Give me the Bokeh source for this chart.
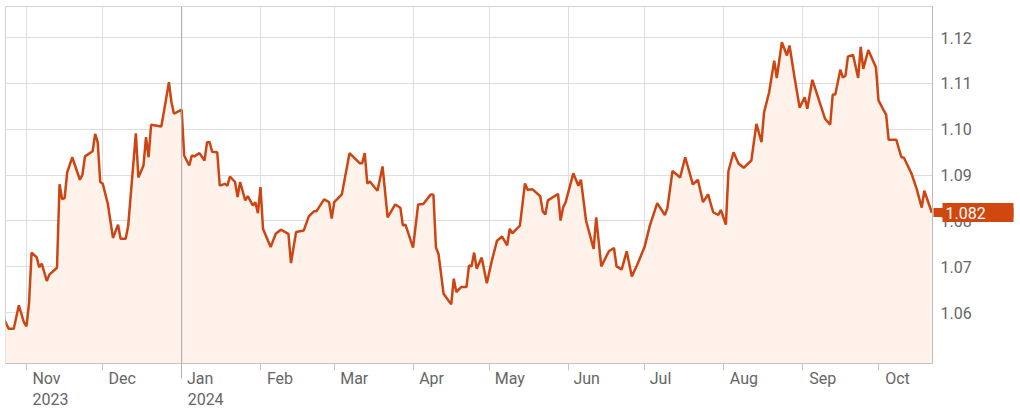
import pandas as pd
from bokeh.plotting import figure
from bokeh.models import (Range1d, FixedTicker, LinearAxis, Span,
                          PrintfTickFormatter)
from bokeh.embed import file_html
from bokeh.resources import INLINE

# ---------------- data ----------------
dates = [
    "2023-10-23", "2023-10-25", "2023-10-27", "2023-10-29", "2023-10-31",
    "2023-11-01", "2023-11-02", "2023-11-03", "2023-11-05", "2023-11-06",
    "2023-11-07", "2023-11-09", "2023-11-10", "2023-11-13", "2023-11-14",
    "2023-11-15", "2023-11-16", "2023-11-17", "2023-11-19", "2023-11-22",
    "2023-11-23", "2023-11-24", "2023-11-27", "2023-11-28", "2023-11-29",
    "2023-11-30", "2023-12-01", "2023-12-03", "2023-12-05", "2023-12-07",
    "2023-12-08", "2023-12-10", "2023-12-11", "2023-12-14", "2023-12-15",
    "2023-12-17", "2023-12-18", "2023-12-19", "2023-12-20", "2023-12-24",
    "2023-12-25", "2023-12-27", "2023-12-28", "2023-12-29", "2024-01-01",
    "2024-01-02", "2024-01-04", "2024-01-05", "2024-01-06", "2024-01-08",
    "2024-01-10", "2024-01-11", "2024-01-12", "2024-01-13", "2024-01-15",
    "2024-01-16", "2024-01-18", "2024-01-19", "2024-01-20", "2024-01-22",
    "2024-01-23", "2024-01-24", "2024-01-26", "2024-01-27", "2024-01-29",
    "2024-01-30", "2024-01-31", "2024-02-01", "2024-02-02", "2024-02-05",
    "2024-02-07", "2024-02-09", "2024-02-12", "2024-02-13", "2024-02-15",
    "2024-02-18", "2024-02-20", "2024-02-22", "2024-02-23", "2024-02-26",
    "2024-02-28", "2024-02-29", "2024-03-01", "2024-03-04", "2024-03-07",
    "2024-03-11", "2024-03-12", "2024-03-13", "2024-03-14", "2024-03-15",
    "2024-03-18", "2024-03-20", "2024-03-22", "2024-03-25", "2024-03-27",
    "2024-03-28", "2024-03-29", "2024-04-01", "2024-04-03", "2024-04-05",
    "2024-04-08", "2024-04-09", "2024-04-10", "2024-04-11", "2024-04-13",
    "2024-04-16", "2024-04-17", "2024-04-18", "2024-04-20", "2024-04-22",
    "2024-04-23", "2024-04-24", "2024-04-25", "2024-04-26", "2024-04-28",
    "2024-04-30", "2024-05-02", "2024-05-04", "2024-05-06", "2024-05-08",
    "2024-05-09", "2024-05-10", "2024-05-13", "2024-05-15", "2024-05-16",
    "2024-05-18", "2024-05-21", "2024-05-22", "2024-05-23", "2024-05-24",
    "2024-05-28", "2024-05-29", "2024-05-30", "2024-05-31", "2024-06-03",
    "2024-06-05", "2024-06-06", "2024-06-08", "2024-06-11", "2024-06-12",
    "2024-06-14", "2024-06-17", "2024-06-19", "2024-06-20", "2024-06-22",
    "2024-06-24", "2024-06-26", "2024-06-28", "2024-07-01", "2024-07-03",
    "2024-07-06", "2024-07-09", "2024-07-10", "2024-07-12", "2024-07-15",
    "2024-07-17", "2024-07-20", "2024-07-22", "2024-07-24", "2024-07-26",
    "2024-07-28", "2024-07-30", "2024-07-31", "2024-08-02", "2024-08-03",
    "2024-08-05", "2024-08-07", "2024-08-09", "2024-08-12", "2024-08-14",
    "2024-08-16", "2024-08-17", "2024-08-19", "2024-08-21", "2024-08-22",
    "2024-08-24", "2024-08-26", "2024-08-27", "2024-08-29", "2024-08-31",
    "2024-09-02", "2024-09-03", "2024-09-05", "2024-09-10", "2024-09-12",
    "2024-09-13", "2024-09-14", "2024-09-16", "2024-09-17", "2024-09-18",
    "2024-09-19", "2024-09-21", "2024-09-23", "2024-09-24", "2024-09-25",
    "2024-09-27", "2024-09-30", "2024-10-01", "2024-10-03", "2024-10-04",
    "2024-10-05", "2024-10-08", "2024-10-10", "2024-10-11", "2024-10-14",
    "2024-10-16", "2024-10-18", "2024-10-19", "2024-10-22",
]
values = [
    1.0588, 1.0565, 1.0565, 1.0616, 1.0579,
    1.0570, 1.0620, 1.0731, 1.0721, 1.0699,
    1.0707, 1.0669, 1.0683, 1.0698, 1.0880,
    1.0848, 1.0850, 1.0906, 1.0939, 1.0890,
    1.0901, 1.0941, 1.0952, 1.0990, 1.0972,
    1.0885, 1.0881, 1.0837, 1.0763, 1.0792,
    1.0761, 1.0761, 1.0790, 1.0991, 1.0895,
    1.0921, 1.0983, 1.0939, 1.1010, 1.1006,
    1.1037, 1.1103, 1.1059, 1.1034, 1.1043,
    1.0943, 1.0921, 1.0943, 1.0941, 1.0948,
    1.0932, 1.0972, 1.0972, 1.0951, 1.0950,
    1.0877, 1.0881, 1.0877, 1.0897, 1.0885,
    1.0852, 1.0885, 1.0845, 1.0854, 1.0834,
    1.0841, 1.0817, 1.0874, 1.0783, 1.0743,
    1.0772, 1.0781, 1.0772, 1.0708, 1.0776,
    1.0779, 1.0810, 1.0821, 1.0821, 1.0847,
    1.0841, 1.0805, 1.0841, 1.0858, 1.0948,
    1.0926, 1.0926, 1.0948, 1.0882, 1.0886,
    1.0866, 1.0919, 1.0808, 1.0836, 1.0829,
    1.0790, 1.0792, 1.0742, 1.0836, 1.0837,
    1.0858, 1.0857, 1.0742, 1.0728, 1.0641,
    1.0618, 1.0674, 1.0645, 1.0656, 1.0656,
    1.0703, 1.0701, 1.0731, 1.0696, 1.0720,
    1.0664, 1.0714, 1.0757, 1.0766, 1.0747,
    1.0783, 1.0773, 1.0790, 1.0882, 1.0868,
    1.0869, 1.0854, 1.0821, 1.0814, 1.0845,
    1.0859, 1.0801, 1.0830, 1.0841, 1.0904,
    1.0877, 1.0890, 1.0801, 1.0739, 1.0808,
    1.0701, 1.0734, 1.0741, 1.0701, 1.0694,
    1.0734, 1.0679, 1.0703, 1.0743, 1.0788,
    1.0839, 1.0813, 1.0828, 1.0909, 1.0895,
    1.0939, 1.0880, 1.0890, 1.0841, 1.0858,
    1.0819, 1.0813, 1.0824, 1.0792, 1.0909,
    1.0950, 1.0925, 1.0916, 1.0932, 1.1012,
    1.0972, 1.1037, 1.1081, 1.1150, 1.1112,
    1.1190, 1.1161, 1.1183, 1.1113, 1.1047,
    1.1070, 1.1045, 1.1108, 1.1023, 1.1010,
    1.1076, 1.1076, 1.1130, 1.1113, 1.1117,
    1.1159, 1.1162, 1.1112, 1.1180, 1.1132,
    1.1173, 1.1135, 1.1063, 1.1042, 1.1032,
    1.0977, 1.0977, 1.0939, 1.0938, 1.0903,
    1.0870, 1.0829, 1.0866, 1.0818,
]
month_ticks = ["2023-11-01", "2023-12-01", "2024-01-01", "2024-02-01",
               "2024-03-01", "2024-04-01", "2024-05-01", "2024-06-01",
               "2024-07-01", "2024-08-01", "2024-09-01", "2024-10-01"]
month_labels = ["Nov", "Dec", "Jan", "Feb", "Mar", "Apr", "May",
                "Jun", "Jul", "Aug", "Sep", "Oct"]
year_ticks = ["2023-11-01", "2024-01-01"]
year_labels = ["2023", "2024"]
year_boundary = "2024-01-01"
y_ticks = [1.06, 1.07, 1.08, 1.09, 1.10, 1.11, 1.12]

# ---------------- styling ----------------
FONT = "Roboto"
LINE = "#cc4512"
FILL = "#fef2ea"
BADGE = "#d0470f"
GRID = "#dedede"
TEXT = "#666666"
FW, FH = 927, 357
Y0, Y1 = 1.0489, 1.1268
VIEW_START, VIEW_END = "2023-10-23 18:00", "2024-10-22 05:30"
# approximate rendered widths (px) of the 16px labels, used to left-align them
MONTH_W = [28, 27, 25, 27, 28, 25, 29, 25, 20, 29, 29, 26]
YEAR_W = 36
LABEL_GAP = 6          # px between month line and label start
AXIS_W = 42            # px width of the numeric right axis
BADGE_L, BADGE_R, BADGE_TXT = 10, 81, 13   # px right of frame edge


def ms(d):
    return int(pd.Timestamp(d).value // 10**6)


x = pd.to_datetime(dates)
x0, x1 = ms(VIEW_START), ms(VIEW_END)
month_ms = [ms(d) for d in month_ticks]
ms_per_px = (x1 - x0) / FW

p = figure(frame_width=FW, frame_height=FH, x_axis_type="datetime",
           y_axis_location="right", output_backend="svg",
           toolbar_location=None, x_range=Range1d(x0, x1),
           y_range=Range1d(Y0, Y1), min_border_left=0, min_border_top=0,
           min_border_right=84, min_border_bottom=0,
           background_fill_color="white", border_fill_color="white")
p.styles = {"margin-left": "5px", "margin-top": "6px"}
p.outline_line_color = "#d4d4d4"

p.xgrid.ticker = FixedTicker(ticks=month_ms)
p.xgrid.grid_line_color = GRID
p.ygrid.grid_line_color = GRID

# tick-mark axis (month starts; the year boundary gets a longer tick)
ax = p.below[0]
ax.ticker = FixedTicker(ticks=month_ms, minor_ticks=[ms(year_boundary)])
ax.major_label_overrides = {t: "" for t in month_ms}
ax.major_label_standoff = 0
ax.major_tick_out = 7
ax.major_tick_in = 0
ax.major_tick_line_color = "#c4c4c4"
ax.minor_tick_out = 15
ax.minor_tick_in = 0
ax.minor_tick_line_color = "#b4b4b4"
ax.axis_line_color = "#c4c4c4"


def label_axis(ticks, labels, widths, standoff):
    pos = [int(ms(t) + (LABEL_GAP + w / 2) * ms_per_px)
           for t, w in zip(ticks, widths)]
    return LinearAxis(ticker=FixedTicker(ticks=pos),
                      major_label_overrides=dict(zip(pos, labels)),
                      axis_line_color=None, major_tick_line_color=None,
                      minor_tick_line_color=None, major_tick_out=0,
                      major_tick_in=0, major_label_standoff=standoff,
                      major_label_text_font=FONT,
                      major_label_text_font_size="16px",
                      major_label_text_color=TEXT)


p.add_layout(label_axis(month_ticks, month_labels, MONTH_W, -10), "below")
p.add_layout(label_axis(year_ticks, year_labels, [YEAR_W] * 2, 2), "below")

lv = values[-1]
ry = p.yaxis[0]
ry.ticker = FixedTicker(ticks=y_ticks)
ry.formatter = PrintfTickFormatter(format="%.2f")
ry.major_tick_out = 0
ry.major_tick_in = 0
ry.minor_tick_line_color = None
ry.minor_tick_out = 0
ry.minor_tick_in = 0
ry.axis_line_color = "#bdbdbd"
ry.major_label_standoff = 8
ry.major_label_text_font = FONT
ry.major_label_text_font_size = "16px"
ry.major_label_text_color = TEXT

# current-value badge: a second right axis whose thick ticks form the box
badge = LinearAxis(ticker=FixedTicker(ticks=[lv], minor_ticks=[lv]),
                   formatter=PrintfTickFormatter(format="%.3f"),
                   axis_line_color=None,
                   major_tick_in=AXIS_W - BADGE_L,
                   major_tick_out=BADGE_R - AXIS_W,
                   major_tick_line_width=19, major_tick_line_color=BADGE,
                   minor_tick_in=AXIS_W - 1,
                   minor_tick_out=BADGE_R - AXIS_W,
                   minor_tick_line_width=9, minor_tick_line_color=BADGE,
                   major_label_standoff=BADGE_TXT - BADGE_R,
                   major_label_text_font=FONT,
                   major_label_text_font_size="16px",
                   major_label_text_color="white")
p.add_layout(badge, "right")

p.add_layout(Span(location=ms(year_boundary), dimension="height",
                  line_color="#a8a8a8", line_width=1))

p.varea(x=x, y1=Y0, y2=values, fill_color=FILL)
p.line(x=x, y=values, line_color=LINE, line_width=2.5)

open("out.html", "w").write(file_html(p, INLINE))
